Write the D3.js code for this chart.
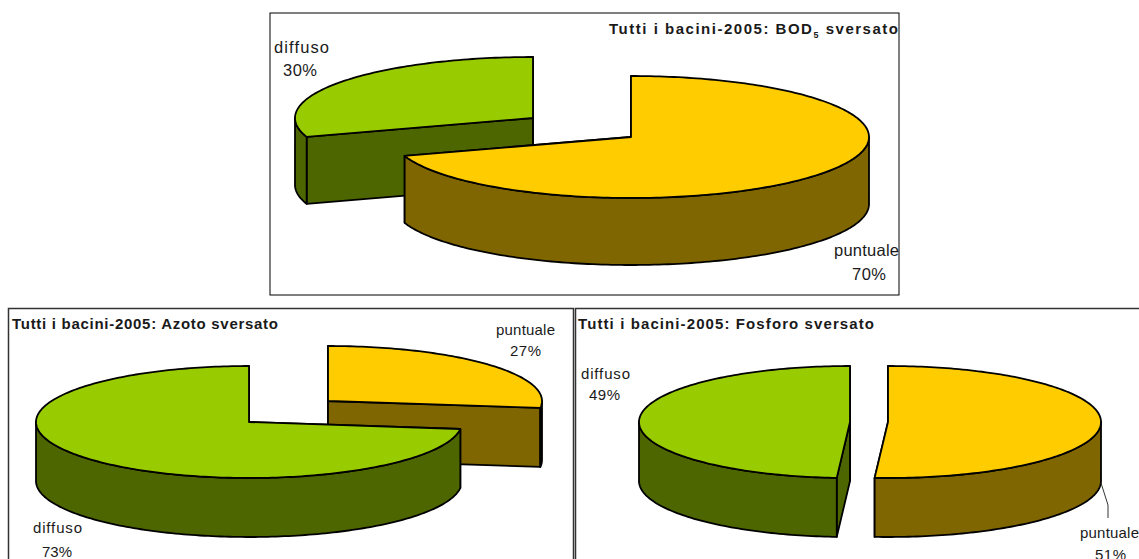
<!DOCTYPE html>
<html>
<head>
<meta charset="utf-8">
<script src="https://cdnjs.cloudflare.com/ajax/libs/d3/7.8.5/d3.min.js"></script>
<style>
html,body{margin:0;padding:0;background:#fff;overflow:hidden}
svg{display:block}
text{font-family:"Liberation Sans",Arial,sans-serif;fill:#1a1a1a}
</style>
</head>
<body>
<svg id="c" width="1139" height="559"></svg>
<script>
// ---- data ----
const categories = ["puntuale", "diffuso"];
const bodValues = [70, 30];
const azotoValues = [27, 73];
const fosforoValues = [51, 49];
const titlePrefix = "Tutti i bacini-2005: ";
const topColors = ["#ffcc00", "#99cc00"];
const wallColors = ["#806600", "#4d6600"];

// ---- layout ----
const panels = [
  { values: bodValues, order: [1, 0], depth: 67,
    frame: {x: 270, y: 13, w: 629, h: 282, stroke: "#000", sw: 1},
    title: {x: 609, y: 34, w: 289, size: 15, parts: ["BOD", "5", " sversato"]},
    pies: [{cx: 631, cy: 137, rx: 238, ry: 61}, {cx: 533, cy: 118, rx: 238, ry: 61}],
    labels: [
      {name: {x: 834, y: 256, w: 65}, pct: {x: 852, y: 280, w: 34}},
      {name: {x: 274, y: 53, w: 55}, pct: {x: 283, y: 76, w: 34}}
    ], fontSize: 16.5 },
  { values: azotoValues, order: [0, 1], depth: 59,
    frame: {x: 8.5, y: 308.5, w: 565, h: 260, stroke: "#333", sw: 1.5},
    title: {x: 12, y: 329, w: 266, size: 15, parts: ["Azoto sversato"]},
    pies: [{cx: 328, cy: 401, rx: 214, ry: 55}, {cx: 249, cy: 422, rx: 213, ry: 56}],
    labels: [
      {name: {x: 496, y: 335, w: 59}, pct: {x: 510, y: 356, w: 31}},
      {name: {x: 33, y: 533, w: 49}, pct: {x: 42, y: 557, w: 30}}
    ], fontSize: 15 },
  { values: fosforoValues, order: [1, 0], depth: 59,
    frame: {x: 575.5, y: 308.5, w: 600, h: 260, stroke: "#333", sw: 1.5},
    title: {x: 578, y: 329, w: 296, size: 15, parts: ["Fosforo sversato"]},
    pies: [{cx: 888, cy: 422, rx: 213, ry: 56}, {cx: 850, cy: 422, rx: 211, ry: 56}],
    labels: [
      {name: {x: 1080, y: 538, w: 59}, pct: {x: 1095, y: 560, w: 31},
       leader: [[1101, 483], [1108, 505], [1108, 518]]},
      {name: {x: 581, y: 379, w: 49}, pct: {x: 589, y: 400, w: 31}}
    ], fontSize: 15 }
];

const svg = d3.select("#c");
const pie = d3.pie().sort(null).startAngle(0).endAngle(2 * Math.PI);
const lineGen = d3.line();

function drawPanel(p) {
  svg.append("rect").attr("x", p.frame.x).attr("y", p.frame.y)
    .attr("width", p.frame.w).attr("height", p.frame.h)
    .attr("fill", "#fff").attr("stroke", p.frame.stroke).attr("stroke-width", p.frame.sw);

  const arcs = pie(p.values);
  p.order.forEach(i => {
    const a = arcs[i], g = p.pies[i];
    const sx = d3.scaleLinear().domain([-1, 1]).range([g.cx - g.rx, g.cx + g.rx]);
    const sy = d3.scaleLinear().domain([-1, 1]).range([g.cy - g.ry, g.cy + g.ry]);
    const pt = (t, d = 0) => [sx(Math.sin(t)), sy(-Math.cos(t)) + d];
    const samples = (t0, t1) => {
      const n = Math.max(2, Math.ceil((t1 - t0) / 0.02));
      return d3.range(n + 1).map(k => t0 + (t1 - t0) * k / n);
    };
    const shape = {fill: wallColors[i], stroke: "#000", "stroke-width": 1.8, "stroke-linejoin": "round"};
    const paint = (sel, attrs) => Object.entries(attrs).forEach(([k, v]) => sel.attr(k, v));
    const c0 = [g.cx, g.cy], c1 = [g.cx, g.cy + p.depth];

    // radial walls
    [a.startAngle, a.endAngle].forEach(t => {
      const q = svg.append("path").attr("d", lineGen([c0, pt(t), pt(t, p.depth), c1]) + "Z");
      paint(q, shape);
    });
    // outer wall: only the front half of the rim shows
    const w0 = Math.max(a.startAngle, Math.PI / 2), w1 = Math.min(a.endAngle, 3 * Math.PI / 2);
    if (w1 > w0) {
      const ts = samples(w0, w1);
      const q = svg.append("path").attr("d", lineGen(
        ts.map(t => pt(t)).concat(ts.slice().reverse().map(t => pt(t, p.depth)))) + "Z");
      paint(q, shape);
    }
    // top face
    const top = svg.append("path").attr("d", lineGen(
      [c0].concat(samples(a.startAngle, a.endAngle).map(t => pt(t)))) + "Z");
    paint(top, Object.assign({}, shape, {fill: topColors[i]}));
  });

  // labels
  p.labels.forEach((l, i) => {
    if (l.leader) svg.append("path").attr("d", lineGen(l.leader))
      .attr("fill", "none").attr("stroke", "#333").attr("stroke-width", 1);
    svg.append("text").attr("x", l.name.x).attr("y", l.name.y)
      .attr("font-size", p.fontSize).attr("textLength", l.name.w).attr("lengthAdjust", "spacing")
      .text(categories[i]);
    svg.append("text").attr("x", l.pct.x).attr("y", l.pct.y)
      .attr("font-size", p.fontSize).attr("textLength", l.pct.w).attr("lengthAdjust", "spacing")
      .text(p.values[i] + "%");
  });

  // title
  const t = svg.append("text").attr("x", p.title.x).attr("y", p.title.y)
    .attr("font-size", p.title.size).attr("font-weight", "bold")
    .attr("textLength", p.title.w).attr("lengthAdjust", "spacing");
  t.append("tspan").text(titlePrefix + p.title.parts[0]);
  if (p.title.parts.length > 1) {
    t.append("tspan").attr("font-size", 9).attr("dy", 4).text(p.title.parts[1]);
    t.append("tspan").attr("dy", -4).text(p.title.parts[2]);
  }
}
panels.forEach(drawPanel);
</script>
</body>
</html>
